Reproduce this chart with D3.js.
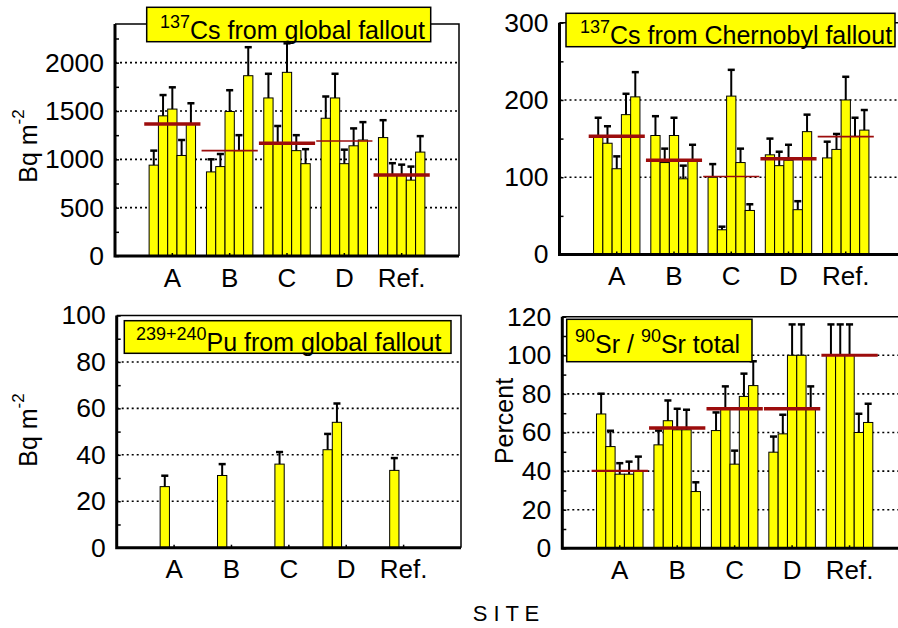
<!DOCTYPE html>
<html>
<head>
<meta charset="utf-8">
<script src="https://cdn.jsdelivr.net/npm/d3@7"></script>
<style>
  html, body { margin: 0; padding: 0; background: #fff; }
  svg { display: block; font-family: "Liberation Sans", Arial, Helvetica, sans-serif; }
</style>
</head>
<body>
<svg id="chart" width="898" height="628"></svg>
<script>
// Sampling sites (five samples per site)
const sites = ["A", "B", "C", "D", "Ref."];

// 137Cs from global fallout, Bq m-2
const csGlobal = [
  [940, 1450, 1520, 1040, 1370],
  [870, 925, 1495, 1090, 1865],
  [1635, 1165, 1900, 1090, 955],
  [1425, 1635, 955, 1140, 1200],
  [1225, 840, 840, 785, 1075]
];
const csGlobalSd = [
  [150, 215, 225, 160, 210],
  [130, 130, 220, 160, 295],
  [250, 180, 300, 160, 150],
  [225, 250, 145, 180, 185],
  [180, 120, 105, 140, 165]
];
const csGlobalMean = [1366, 1090, 1166, 1190, 838];

// 137Cs from Chernobyl fallout, Bq m-2
const csChernobyl = [
  [152, 144, 111, 181, 204],
  [154, 119, 154, 98, 121],
  [100, 32, 205, 119, 57],
  [129, 115, 122, 58, 159],
  [125, 136, 200, 153, 161]
];
const csChernobylSd = [
  [25, 22, 16, 27, 32],
  [25, 18, 23, 17, 21],
  [17, 4, 34, 18, 8],
  [21, 18, 20, 11, 22],
  [21, 20, 30, 24, 26]
];
const csChernobylMean = [153, 122, 101, 124, 152.5];

// 239+240Pu from global fallout, Bq m-2 (only some samples measured)
const puGlobal = [
  [null, 26.3, null, null, null],
  [null, 31.1, null, null, null],
  [null, 36.0, null, null, null],
  [42.2, 54.0, null, null, null],
  [null, 33.3, null, null, null]
];
const puGlobalSd = [
  [0, 4.7, 0, 0, 0],
  [0, 4.9, 0, 0, 0],
  [0, 5.2, 0, 0, 0],
  [6.8, 8.1, 0, 0, 0],
  [0, 5.3, 0, 0, 0]
];

// 90Sr as percent of total 90Sr
const srShare = [
  [69.6, 52.7, 38.4, 38.4, 40.1],
  [53.6, 66.1, 61.4, 61.4, 29.4],
  [61.0, 72.3, 43.6, 78.7, 84.3],
  [49.8, 59.3, 100, 100, 72.3],
  [100, 100, 100, 60.0, 65.2]
];
const srShareSd = [
  [10.5, 8.2, 5.7, 6.5, 7.4],
  [7.4, 10.5, 10.9, 10.4, 4.8],
  [9.4, 11.6, 7.0, 11.8, 12.6],
  [8.1, 9.9, 16, 16, 11.6],
  [16, 16, 16, 9.7, 9.7]
];
const srShareMean = [40.1, 62.3, 72.3, 72.3, 100];

const svg = d3.select("#chart");
svg.append("rect").attr("width", 898).attr("height", 628).attr("fill", "#fff");

const FONT = 25;
const TICK_FONT = 26.5;
const MEAN_COLOR = "#9c0c0c";

const panels = [
  {
    values: csGlobal, sd: csGlobalSd, mean: csGlobalMean,
    meanWidth: [3.5, 1.6, 3.5, 1.6, 3.5],
    left: 115, right: 459, bottom: 256, top: 24,
    max: 2400, major: 500, minor: 250, grid: [500, 1000, 1500, 2000],
    title: { sup: ["137"], text: ["Cs from global fallout"], box: [146.7, 7.3, 284, 34.4], x: 160, y: 39 },
    yTitle: { x: 37, y: 146, unit: true }
  },
  {
    values: csChernobyl, sd: csChernobylSd, mean: csChernobylMean,
    meanWidth: [3.5, 3.5, 1.6, 3.5, 1.6],
    left: 559.5, right: 903, bottom: 254.5, top: 22.7,
    max: 300, major: 100, minor: 50, grid: [100, 200],
    title: { sup: ["137"], text: ["Cs from Chernobyl fallout"], box: [566, 13.3, 329, 33.4], x: 580, y: 44 }
  },
  {
    values: puGlobal, sd: puGlobalSd, mean: null,
    left: 116.7, right: 461, bottom: 547.7, top: 315.5,
    max: 100, major: 20, minor: 10, grid: [20, 40, 60, 80],
    title: { sup: ["239+240"], text: ["Pu from global fallout"], box: [124.3, 320.7, 326.7, 32.6], x: 136, y: 350.5 },
    yTitle: { x: 37, y: 430, unit: true }
  },
  {
    values: srShare, sd: srShareSd, mean: srShareMean,
    meanWidth: [2.2, 3.5, 3.5, 3.5, 3],
    left: 562.3, right: 907, bottom: 548.3, top: 316.7,
    max: 120, major: 20, minor: 10, grid: [20, 40, 60, 80, 100],
    title: { sup: ["90", "90"], text: ["Sr / ", "Sr total"], box: [566.7, 319.3, 185.3, 42.4], x: 575, y: 352.7 },
    yTitle: { x: 513, y: 421, unit: false }
  }
];

function drawPanel(p) {
  const x = d3.scaleLinear().domain([0, sites.length + 1]).range([p.left, p.right]);
  const y = d3.scaleLinear().domain([0, p.max]).range([p.bottom, p.top]);
  const pitch = x(1) - x(0);
  const bw = pitch * 0.162;
  const g = svg.append("g");

  // dotted gridlines
  g.selectAll("line.grid").data(p.grid).join("line")
    .attr("x1", p.left).attr("x2", p.right)
    .attr("y1", d => y(d)).attr("y2", d => y(d))
    .attr("stroke", "#000").attr("stroke-width", 1.6)
    .attr("stroke-dasharray", "2,3");

  // one record per measured sample
  const bars = [];
  p.values.forEach((grp, i) => grp.forEach((v, j) => {
    if (v != null) bars.push({ i, j, v, sd: p.sd[i][j] });
  }));
  const bx = d => x(d.i + 1) + (d.j - 2.5) * bw;

  g.selectAll("rect.bar").data(bars).join("rect")
    .attr("x", bx).attr("width", bw)
    .attr("y", d => y(d.v)).attr("height", d => y(0) - y(d.v))
    .attr("fill", "#ffff00").attr("stroke", "#000").attr("stroke-width", 1);

  // upper error bars
  const eb = g.selectAll("g.err").data(bars).join("g")
    .attr("stroke", "#000").attr("stroke-width", 2);
  eb.append("line")
    .attr("x1", d => bx(d) + bw / 2).attr("x2", d => bx(d) + bw / 2)
    .attr("y1", d => y(d.v)).attr("y2", d => y(d.v + d.sd));
  eb.append("line")
    .attr("x1", d => bx(d) + bw * 0.12).attr("x2", d => bx(d) + bw * 0.88)
    .attr("y1", d => y(d.v + d.sd)).attr("y2", d => y(d.v + d.sd))
    .attr("stroke-width", 2.5);

  // site means
  if (p.mean) {
    g.selectAll("line.mean").data(p.mean).join("line")
      .attr("x1", (d, i) => x(i + 1) - pitch * 0.49)
      .attr("x2", (d, i) => x(i + 1) + pitch * 0.49)
      .attr("y1", d => y(d)).attr("y2", d => y(d))
      .attr("stroke", MEAN_COLOR)
      .attr("stroke-width", (d, i) => p.meanWidth[i]);
  }

  // frame: thin top/right, heavy left/bottom
  g.append("path")
    .attr("d", `M${p.left},${p.top}H${p.right}V${p.bottom}`)
    .attr("fill", "none").attr("stroke", "#000").attr("stroke-width", 1.5);
  g.append("path")
    .attr("d", `M${p.left},${p.top}V${p.bottom}H${p.right}`)
    .attr("fill", "none").attr("stroke", "#000").attr("stroke-width", 3);

  // y axis, inward ticks at every minor step
  const yAxis = d3.axisLeft(y)
    .tickValues(d3.range(0, p.max + 1e-9, p.minor))
    .tickSize(-4).tickPadding(11)
    .tickFormat(d => (Math.abs(d % p.major) < 1e-9) ? d : "");
  const ya = g.append("g").attr("transform", `translate(${p.left},0)`).call(yAxis);
  ya.select(".domain").remove();
  ya.attr("font-size", TICK_FONT).attr("font-family", null);
  ya.selectAll("line").attr("stroke-width", 1.5);

  // small x ticks at site positions
  g.selectAll("line.xt").data(sites).join("line")
    .attr("x1", (d, i) => x(i + 1)).attr("x2", (d, i) => x(i + 1))
    .attr("y1", p.bottom).attr("y2", p.bottom - 3)
    .attr("stroke", "#000").attr("stroke-width", 1.5);

  // site labels
  g.selectAll("text.site").data(sites).join("text")
    .attr("x", (d, i) => x(i + 1)).attr("y", p.bottom + 30.5)
    .attr("text-anchor", "middle").attr("font-size", 26)
    .text(d => d);

  // title box
  const t = p.title;
  g.append("rect")
    .attr("x", t.box[0]).attr("y", t.box[1]).attr("width", t.box[2]).attr("height", t.box[3])
    .attr("fill", "#ffff00").attr("stroke", "#000").attr("stroke-width", 1.5);
  const tt = g.append("text").attr("x", t.x).attr("y", t.y).attr("font-size", FONT);
  t.sup.forEach((s, k) => {
    tt.append("tspan").attr("font-size", 18).attr("dy", -11).text(s);
    tt.append("tspan").attr("dy", 11).text(t.text[k]);
  });

  // y axis title
  if (p.yTitle) {
    const yt = g.append("text")
      .attr("transform", `translate(${p.yTitle.x},${p.yTitle.y}) rotate(-90)`)
      .attr("text-anchor", "middle").attr("font-size", FONT);
    if (p.yTitle.unit) {
      yt.append("tspan").text("Bq  m");
      yt.append("tspan").attr("font-size", 17).attr("dy", -13).text("-2");
    } else {
      yt.text("Percent");
    }
  }
}

panels.forEach(drawPanel);

// shared x axis title
svg.append("text")
  .attr("x", 506).attr("y", 621)
  .attr("text-anchor", "middle").attr("font-size", 22)
  .text("S I T E");
</script>
</body>
</html>
